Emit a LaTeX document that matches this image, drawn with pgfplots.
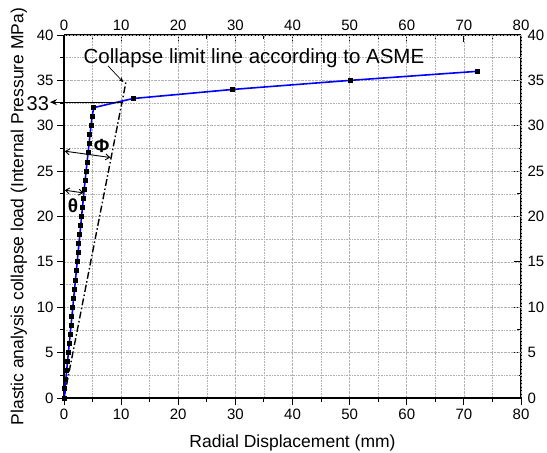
\documentclass[border=0pt]{standalone}
\usepackage{fontspec}
\setmainfont{Liberation Sans}
\usepackage{pgfplots}
\pgfplotsset{compat=1.18}
\usetikzlibrary{arrows.meta}

\begin{document}
\begin{tikzpicture}
\pgfplotsset{
  common/.style={
    scale only axis, width=457pt, height=363pt,
    xmin=0, xmax=80, ymin=0, ymax=40,
    xtick distance=10, ytick distance=5,
    minor x tick num=1, minor y tick num=1,
    major tick length=7pt, minor tick length=4pt,
    axis line style={line width=1.2pt},
    tick style={line width=1pt, black},
    tick label style={font=\fontsize{15}{17}\selectfont},
    /pgf/number format/assume math mode=true,
  },
}
% top and right axes, ticks inward
\begin{axis}[common,
  axis x line*=top, axis y line*=right,
  tick align=inside,
  xticklabel style={yshift=1pt},
  yticklabel style={xshift=3pt},
]
\end{axis}

\begin{axis}[common,
  axis x line*=bottom, axis y line*=left,
  tick align=outside,
  grid=both,
  grid style={densely dotted, gray!60, line width=0.6pt},
  minor grid style={densely dotted, gray!60, line width=0.6pt},
  clip=false,
  xlabel={Radial Displacement (mm)},
  ylabel={Plastic analysis collapse load (Internal Pressure MPa)},
  label style={font=\fontsize{17.5}{20}\selectfont},
  xlabel style={yshift=-9pt},
  ylabel style={yshift=3pt},
]
% ASME twice-elastic-slope collapse limit line
\addplot[black, line width=1.4pt, dash pattern=on 7pt off 2.5pt on 1.5pt off 2.5pt]
  coordinates {(0,0) (10.9,35)};

% load - displacement curve
\addplot[blue, line width=1.6pt, mark=square*, mark size=1.7pt,
  mark options={black, solid}]
  coordinates {
    (0,0) (0.15,1) (0.31,2) (0.46,3) (0.62,4) (0.77,5) (0.92,6) (1.08,7)
    (1.23,8) (1.39,9) (1.54,10) (1.69,11) (1.85,12) (2.0,13) (2.16,14)
    (2.31,15) (2.46,16) (2.62,17) (2.77,18) (2.93,19) (3.08,20) (3.23,21)
    (3.39,22) (3.54,23) (3.70,24) (3.87,25) (4.04,26) (4.21,27) (4.38,28)
    (4.55,29) (4.73,30) (4.92,31) (5.2,32)
    (12.1,33) (29.5,34) (50.1,35) (72.4,36)
  };

\coordinate (SW) at (rel axis cs:0,0);
\coordinate (NE) at (rel axis cs:1,1);

% annotations
\node[anchor=base west, inner sep=0, font=\fontsize{20.5}{22}\selectfont]
  at (axis cs:3.4,36.9) {Collapse limit line according to ASME};
\draw[-{Stealth[length=5pt,width=4pt]}, line width=0.7pt]
  (axis cs:7.7,36.6) -- (axis cs:10.4,34.8);

\draw[-{Stealth[length=7pt,width=6pt]}, line width=1pt]
  (axis cs:10.4,32.6) -- (axis cs:-2.46,32.6);
\node[anchor=base east, inner sep=0, font=\fontsize{20}{22}\selectfont]
  at (axis cs:-2.6,31.7) {33};

\draw[{Straight Barb[length=4pt,width=6pt]}-{Straight Barb[length=4pt,width=6pt]}, line width=0.9pt]
  (axis cs:0.15,27.2) -- (axis cs:8.1,26.5);
\node[anchor=base, inner sep=0, font=\fontsize{19}{20}\selectfont\bfseries]
  at (axis cs:6.58,27.1) {Φ};

\draw[{Straight Barb[length=4pt,width=6pt]}-{Straight Barb[length=4pt,width=6pt]}, line width=0.9pt]
  (axis cs:0.15,22.9) -- (axis cs:3.4,22.6);
\node[anchor=base, inner sep=0, font=\fontsize{19}{20}\selectfont\bfseries]
  at (axis cs:1.58,20.4) {θ};
\end{axis}

\pgfresetboundingbox
\path[use as bounding box] ([shift={(-64pt,-54pt)}]SW) rectangle ([shift={(26pt,35pt)}]NE);
\end{tikzpicture}
\end{document}
